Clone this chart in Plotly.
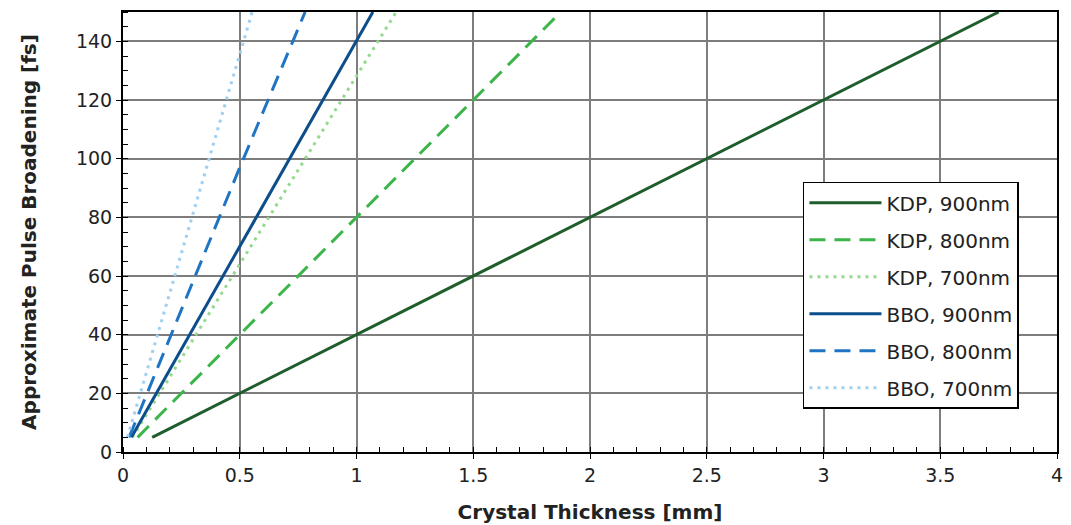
import plotly.graph_objects as go

# Series data: crystal thickness [mm] vs approximate pulse broadening [fs]
names = ["KDP, 900nm", "KDP, 800nm", "KDP, 700nm", "BBO, 900nm", "BBO, 800nm", "BBO, 700nm"]
kdp900_x = [0.125, 1.0, 2.0, 3.0, 3.75]
kdp900_y = [5, 40, 80, 120, 150]
kdp800_x = [0.0625, 0.5, 1.0, 1.5, 1.875]
kdp800_y = [5, 40, 80, 120, 150]
kdp700_x = [0.04, 0.5, 1.0, 1.17]
kdp700_y = [5, 64, 128, 150]
bbo900_x = [0.036, 0.5, 1.0, 1.07]
bbo900_y = [5, 70, 140, 150]
bbo800_x = [0.026, 0.5, 0.78]
bbo800_y = [5, 97, 150]
bbo700_x = [0.019, 0.5, 0.553]
bbo700_y = [5, 135, 150]
x_ticks = [0, 0.5, 1, 1.5, 2, 2.5, 3, 3.5, 4]
x_labels = ["0", "0.5", "1", "1.5", "2", "2.5", "3", "3.5", "4"]

xs = [kdp900_x, kdp800_x, kdp700_x, bbo900_x, bbo800_x, bbo700_x]
ys = [kdp900_y, kdp800_y, kdp700_y, bbo900_y, bbo800_y, bbo700_y]
colors = ["#1f5e2c", "#3bb54a", "#95d98f", "#0c4e8c", "#1f74c4", "#9fd0f2"]
dashes = ["solid", "16px,9px", "3px,5px", "solid", "16px,9px", "3px,5px"]

font = "DejaVu Sans"
fig = go.Figure()
for n, x, y, c, d in zip(names, xs, ys, colors, dashes):
    fig.add_trace(go.Scatter(x=x, y=y, mode="lines", name=n, legendgroup=n,
                             line=dict(color=c, dash=d, width=3)))

axis_common = dict(showline=True, linecolor="black", linewidth=2, mirror=True,
                   showgrid=True, gridcolor="#7d7d7d", gridwidth=1.5, zeroline=False,
                   ticks="outside", ticklen=5, tickcolor="black", automargin=False,
                   tickfont=dict(family=font, size=19, color="#222"))
fig.update_xaxes(range=[0, 4], tickvals=x_ticks, ticktext=x_labels,
                 minor=dict(dtick=0.1, ticks="inside", ticklen=5, tickcolor="black", showgrid=False),
                 title=dict(text="<b>Crystal Thickness [mm]</b>", font=dict(family=font, size=20, color="#222"), standoff=20),
                 **axis_common)
fig.update_yaxes(range=[0, 150], dtick=20,
                 minor=dict(dtick=5, ticks="inside", ticklen=5, tickcolor="black", showgrid=False),
                 title=dict(text="<b>Approximate Pulse Broadening [fs]</b>", font=dict(family=font, size=20, color="#222"), standoff=34),
                 **axis_common)
fig.update_layout(
    width=1071, height=525,
    margin=dict(l=123, r=14, t=12, b=73),
    plot_bgcolor="white", paper_bgcolor="white",
    showlegend=True,
    legend=dict(x=0.728, y=0.614, xanchor="left", yanchor="top",
                bgcolor="white", bordercolor="black", borderwidth=1.5,
                font=dict(family=font, size=20, color="#222"),
                tracegroupgap=8, itemwidth=72),
)
fig.write_html("out.html", config={"displayModeBar": False},
               post_script="document.body.style.margin='0';")
